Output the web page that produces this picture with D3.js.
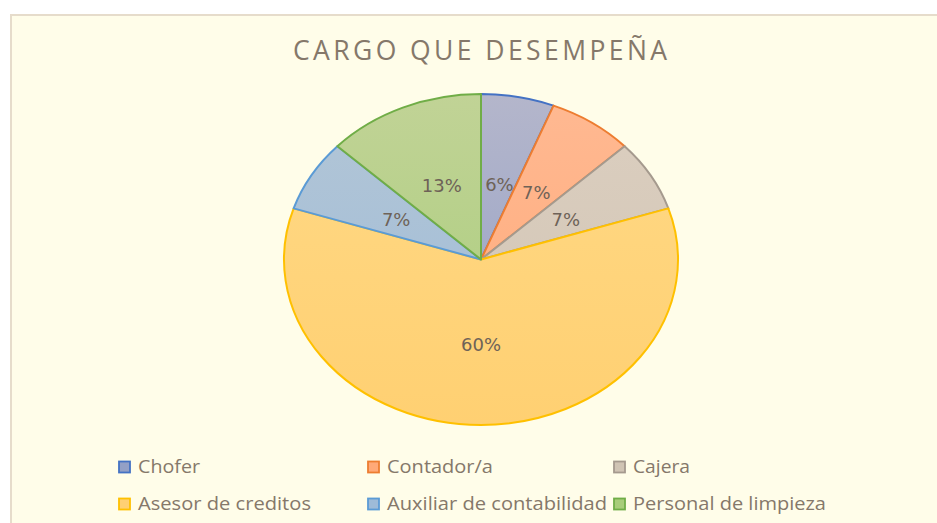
<!DOCTYPE html>
<html><head><meta charset="utf-8">
<script src="https://cdn.jsdelivr.net/npm/d3@7"></script>
<style>
html,body{margin:0;padding:0;background:#fff;}
svg{display:block;}
</style></head>
<body>
<svg id="chart" width="937" height="523"></svg>
<script>
const title = "CARGO QUE DESEMPEÑA";
const categories = ["Chofer","Contador/a","Cajera","Asesor de creditos","Auxiliar de contabilidad","Personal de limpieza"];
const values = [6, 7, 7, 60, 7, 13];
const fillTop = ["#b4b6cb","#ffb992","#dccfc0","#ffd986","#b3c6d6","#c1d396"];
const fillBottom = ["#93a0c6","#ffa978","#d0c4b4","#ffd072","#9ebbd8","#a8cd7a"];
const strokes = ["#4472c4","#ed7d31","#a59a8e","#ffc000","#5b9bd5","#70ad47"];
const legendWidths = [62, 106, 57, 173, 220, 193];

const svg = d3.select("#chart");
const W = 937, H = 523;

// frame
svg.append("rect").attr("x",11).attr("y",15).attr("width",W).attr("height",H)
  .attr("fill","#fffde9").attr("stroke","#e6dccb").attr("stroke-width",2);

svg.append("text").attr("x",480).attr("y",59.5).attr("text-anchor","middle")
  .attr("font-family","'Open Sans','DejaVu Sans',sans-serif")
  .attr("font-size",26.5).attr("fill","#85786a")
  .attr("textLength",374).attr("lengthAdjust","spacing")
  .text(title);

const cx = 481, cy = 259.5, rx = 197, ry = 165.5;
const pie = d3.pie().value(d=>d).sort(null);
const arcs = pie(values);
const arc = d3.arc().innerRadius(0).outerRadius(ry);

const defs = svg.append("defs");
fillTop.forEach((c,i)=>{
  const g = defs.append("linearGradient").attr("id","g"+i)
    .attr("gradientUnits","userSpaceOnUse").attr("x1",0).attr("x2",0).attr("y1",-ry).attr("y2",ry);
  g.append("stop").attr("offset","0%").attr("stop-color",c);
  g.append("stop").attr("offset","100%").attr("stop-color",fillBottom[i]);
});

const gp = svg.append("g").attr("transform",`translate(${cx},${cy}) scale(${rx/ry},1)`);
gp.selectAll("path").data(arcs).enter().append("path")
  .attr("d",arc)
  .attr("fill",(d,i)=>`url(#g${i})`)
  .attr("stroke",(d,i)=>strokes[i])
  .attr("stroke-width",2)
  .attr("vector-effect","non-scaling-stroke")
  .attr("stroke-linejoin","round");

const labelArc = d3.arc().innerRadius(ry*0.5).outerRadius(ry*0.5);
svg.append("g").selectAll("text").data(arcs).enter().append("text")
  .attr("x",d=>cx + labelArc.centroid(d)[0]*rx/ry)
  .attr("y",d=>cy + labelArc.centroid(d)[1] + (d.index===0 ? 6 : 2))
  .attr("dy","0.35em")
  .attr("text-anchor","middle")
  .attr("font-family","'DejaVu Sans',sans-serif")
  .attr("font-size",18).attr("fill","#6e6257")
  .text(d=>d.data+"%");

// legend
const colX = [119, 368, 614];
const rowY = [467, 504];
const lg = svg.append("g");
categories.forEach((c,i)=>{
  const x = colX[i%3], y = rowY[Math.floor(i/3)];
  lg.append("rect").attr("x",x).attr("y",y-5.5).attr("width",11).attr("height",11)
    .attr("fill",fillBottom[i]).attr("stroke",strokes[i]).attr("stroke-width",1.8);
  lg.append("text").attr("x",x+19).attr("y",y+6)
    .attr("font-family","'Open Sans','DejaVu Sans',sans-serif")
    .attr("font-size",18).attr("fill","#85786a")
    .attr("textLength",legendWidths[i]).attr("lengthAdjust","spacingAndGlyphs")
    .text(c);
});
</script>
</body></html>
